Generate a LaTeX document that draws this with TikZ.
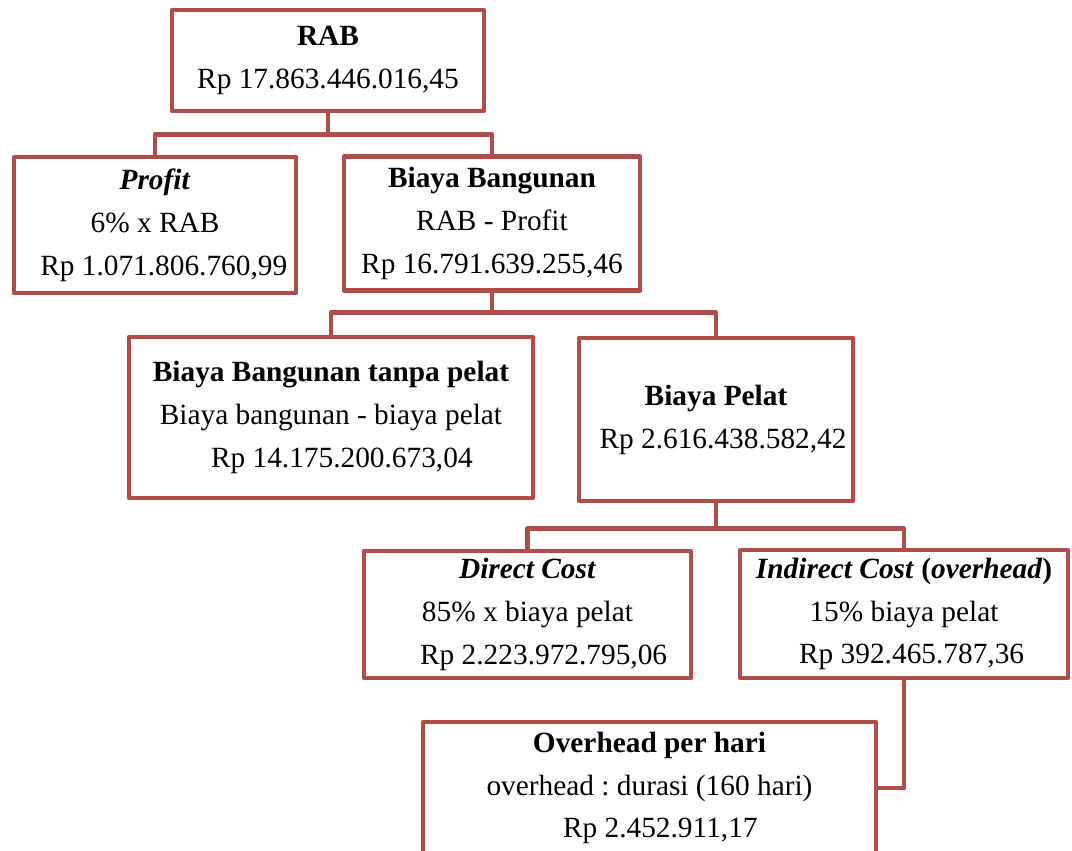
\documentclass[tikz,border=0pt]{standalone}
\usepackage{fontspec}
\setmainfont{Liberation Serif}
\usepackage{tikz}
\usetikzlibrary{positioning,shapes,arrows}
\definecolor{bred}{RGB}{178,76,73}
\frenchspacing
\tikzset{
    block/.style={
        rectangle, line width=2.6pt, line join=round,
        draw=bred, fill=white, inner sep=0pt,
        align=center,
        font=\fontsize{16.7}{24.4}\selectfont
    },
    connector/.style={
        line width=2.6pt, line join=round,
        draw=bred
    },
    tree connector/.style={
        connector,
        to path={(\tikztostart) -- ++(0,#1) -| (\tikztotarget)}
    },
    tree connector/.default=21
}
\newcommand{\lead}[1]{\hspace*{#1em}}

\begin{document}
\begin{tikzpicture}[x=0.02cm,y=-0.02cm]
    \useasboundingbox (0,0) rectangle (1072,850);
    \node[block, minimum width=6.24cm, minimum height=2.02cm] (rab) at (328,60.5)
        {\textbf{RAB}\\Rp 17.863.446.016,45};
    \node[block, minimum width=5.64cm, minimum height=2.72cm] (profit) at (155,225)
        {\textbf{\textit{Profit}}\\6\%\ x RAB\\\lead{0.6}Rp 1.071.806.760,99};
    \node[block, minimum width=5.92cm, minimum height=2.68cm] (bangunan) at (492,223.5)
        {\textbf{Biaya Bangunan}\\RAB - Profit\\Rp 16.791.639.255,46};
    \node[block, minimum width=8.08cm, minimum height=3.22cm] (tanpapelat) at (331,417.5)
        {\textbf{Biaya Bangunan tanpa pelat}\\Biaya bangunan - biaya pelat\\\lead{0.74}Rp 14.175.200.673,04};
    \node[block, minimum width=5.48cm, minimum height=3.26cm] (pelat) at (716,419.5)
        {\textbf{Biaya Pelat}\\\lead{0.48}Rp 2.616.438.582,42};
    \node[block, minimum width=6.54cm, minimum height=2.54cm] (direct) at (527.5,614.5)
        {\textbf{\textit{Direct Cost}}\\85\%\ x biaya pelat\\\lead{1.1}Rp 2.223.972.795,06};
    \node[block, minimum width=6.56cm, minimum height=2.56cm] (indirect) at (904,614)
        {\textbf{\textit{Indirect Cost} (\textit{overhead})}\\15\%\ biaya pelat\\\lead{0.52}Rp 392.465.787,36};
    \node[block, minimum width=9.06cm, minimum height=2.64cm] (overhead) at (649.5,788)
        {\textbf{Overhead per hari}\\overhead : durasi (160 hari)\\\lead{0.74}Rp 2.452.911,17};

    \draw [tree connector] (rab.south) to (profit.north) (rab.south) to (bangunan.north);
    \draw [tree connector=20] (bangunan.south) to (tanpapelat.north) (bangunan.south) to (pelat.north);
    \draw [tree connector=25] (pelat.south) to (direct.north) (pelat.south) to (indirect.north);
    \draw [connector] (indirect.south) |- (overhead.east);
\end{tikzpicture}
\end{document}
